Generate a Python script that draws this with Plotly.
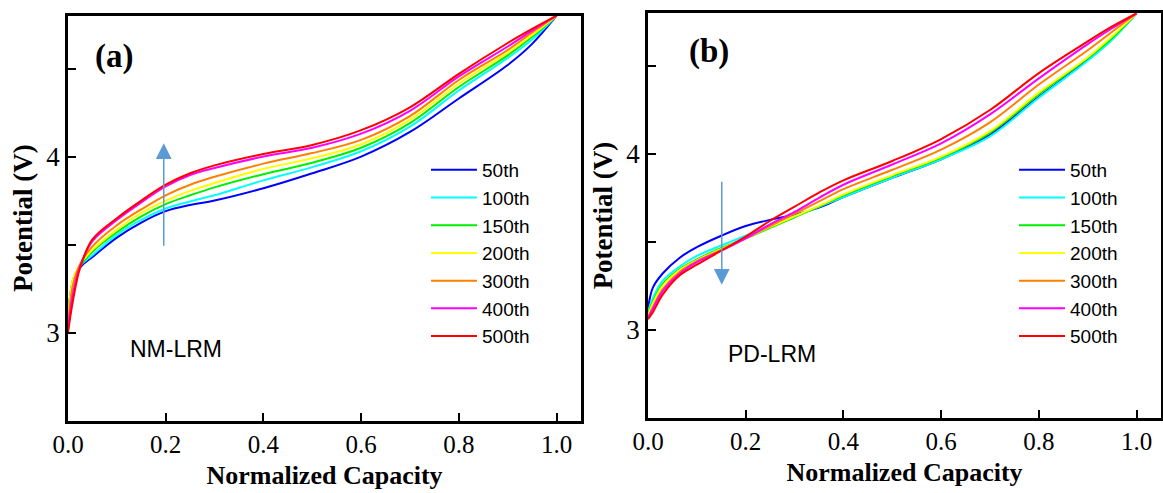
import plotly.graph_objects as go

# ---------------- data ----------------
cycles = ["50th", "100th", "150th", "200th", "300th", "400th", "500th"]
colors = ["#0000ff", "#00ffff", "#00ee00", "#ffff00", "#ff8000", "#ff00ff", "#ff0000"]

# Panel (a) NM-LRM
cap_a = [0, 0.01, 0.025, 0.05, 0.1, 0.15, 0.2, 0.25, 0.3, 0.4, 0.5, 0.6, 0.7, 0.8, 0.9, 0.95, 1.0]
nm_50 = [3.10, 3.28, 3.37, 3.43, 3.54, 3.625, 3.69, 3.725, 3.75, 3.82, 3.905, 4.00, 4.14, 4.33, 4.52, 4.64, 4.80]
nm_100 = [3.08, 3.29, 3.38, 3.44, 3.555, 3.64, 3.705, 3.745, 3.78, 3.865, 3.94, 4.03, 4.17, 4.375, 4.56, 4.665, 4.80]
nm_150 = [3.06, 3.30, 3.38, 3.46, 3.57, 3.66, 3.73, 3.78, 3.825, 3.90, 3.965, 4.05, 4.19, 4.395, 4.575, 4.68, 4.80]
nm_200 = [3.05, 3.30, 3.39, 3.47, 3.585, 3.68, 3.75, 3.805, 3.85, 3.93, 3.99, 4.07, 4.21, 4.415, 4.59, 4.69, 4.80]
nm_300 = [3.04, 3.27, 3.39, 3.49, 3.61, 3.70, 3.78, 3.84, 3.885, 3.96, 4.02, 4.095, 4.23, 4.435, 4.605, 4.705, 4.80]
nm_400 = [3.02, 3.22, 3.38, 3.52, 3.64, 3.74, 3.83, 3.895, 3.935, 4.00, 4.05, 4.13, 4.26, 4.455, 4.625, 4.715, 4.80]
nm_500 = [3.00, 3.18, 3.37, 3.53, 3.65, 3.75, 3.84, 3.905, 3.95, 4.015, 4.066, 4.15, 4.28, 4.47, 4.645, 4.725, 4.80]

# Panel (b) PD-LRM
cap_b = [0, 0.01, 0.03, 0.065, 0.1, 0.15, 0.2, 0.25, 0.3, 0.35, 0.4, 0.5, 0.6, 0.7, 0.8, 0.9, 0.95, 1.0]
pd_50 = [3.12, 3.24, 3.32, 3.41, 3.47, 3.535, 3.59, 3.625, 3.655, 3.695, 3.755, 3.865, 3.97, 4.11, 4.325, 4.535, 4.655, 4.80]
pd_100 = [3.10, 3.18, 3.28, 3.36, 3.42, 3.48, 3.535, 3.59, 3.645, 3.70, 3.755, 3.865, 3.97, 4.10, 4.32, 4.53, 4.65, 4.80]
pd_150 = [3.09, 3.16, 3.26, 3.345, 3.40, 3.465, 3.52, 3.58, 3.64, 3.70, 3.765, 3.875, 3.98, 4.12, 4.34, 4.545, 4.66, 4.80]
pd_200 = [3.08, 3.15, 3.25, 3.34, 3.395, 3.46, 3.52, 3.585, 3.645, 3.705, 3.77, 3.88, 3.985, 4.13, 4.35, 4.55, 4.67, 4.80]
pd_300 = [3.07, 3.13, 3.23, 3.33, 3.39, 3.455, 3.52, 3.59, 3.66, 3.73, 3.80, 3.91, 4.025, 4.18, 4.395, 4.59, 4.695, 4.80]
pd_400 = [3.07, 3.12, 3.22, 3.32, 3.385, 3.45, 3.52, 3.60, 3.67, 3.75, 3.825, 3.94, 4.06, 4.225, 4.43, 4.625, 4.715, 4.80]
pd_500 = [3.06, 3.10, 3.20, 3.31, 3.37, 3.45, 3.53, 3.62, 3.70, 3.78, 3.85, 3.96, 4.085, 4.25, 4.46, 4.64, 4.725, 4.80]

x_ticks = [0.0, 0.2, 0.4, 0.6, 0.8, 1.0]
y_ticks = [3, 3.5, 4, 4.5]
y_ticktext = ["3", "", "4", ""]

nm_series = [nm_50, nm_100, nm_150, nm_200, nm_300, nm_400, nm_500]
pd_series = [pd_50, pd_100, pd_150, pd_200, pd_300, pd_400, pd_500]

# ---------------- figure ----------------
W, H = 1163, 493
fig = go.Figure()

for name, col, ys in zip(cycles, colors, nm_series):
    fig.add_trace(go.Scatter(x=cap_a, y=ys, mode="lines", name=name,
                             line=dict(color=col, width=2, shape="spline", smoothing=1.0),
                             xaxis="x", yaxis="y", legend="legend"))
for name, col, ys in zip(cycles, colors, pd_series):
    fig.add_trace(go.Scatter(x=cap_b, y=ys, mode="lines", name=name,
                             line=dict(color=col, width=2, shape="spline", smoothing=1.0),
                             xaxis="x2", yaxis="y2", legend="legend2"))

serif = "Liberation Serif, Times New Roman, serif"
sans = "Liberation Sans, Arial, sans-serif"

def xaxis(domain, anchor):
    return dict(domain=domain, anchor=anchor, range=[0, 1.05], tickvals=x_ticks,
                tickformat=".1f", ticks="inside", ticklen=8, tickwidth=2, tickcolor="black",
                showline=True, linecolor="black", linewidth=2.5, mirror=True,
                showgrid=False, zeroline=False,
                tickfont=dict(family=serif, size=25, color="black"),
                title=dict(text="<b>Normalized Capacity</b>", standoff=9,
                           font=dict(family=serif, size=26, color="black")),
                automargin=False)

def yaxis(domain, anchor):
    return dict(domain=domain, anchor=anchor, range=[2.5, 4.8], tickvals=y_ticks,
                ticktext=y_ticktext, ticks="inside", ticklen=8, tickwidth=2, tickcolor="black",
                showline=True, linecolor="black", linewidth=2.5, mirror=True,
                showgrid=False, zeroline=False,
                tickfont=dict(family=serif, size=27, color="black"),
                title=dict(text="<b>Potential (V)</b>", standoff=6,
                           font=dict(family=serif, size=27, color="black")),
                automargin=False)

xa = [68 / W, 581 / W]
xb = [648 / W, 1161 / W]
ya = [(H - 420.7) / H, (H - 15.7) / H]
yb = [(H - 417.7) / H, (H - 13.3) / H]

legend_common = dict(bgcolor="rgba(0,0,0,0)", borderwidth=0, itemwidth=46,
                     font=dict(family=sans, size=19, color="black"),
                     xanchor="left", yanchor="top", tracegroupgap=0)

arrow_col = "#5b9bd5"

fig.update_layout(
    width=W, height=H, autosize=False,
    margin=dict(l=0, r=0, t=0, b=0),
    paper_bgcolor="white", plot_bgcolor="white",
    xaxis=xaxis(xa, "y"), yaxis=yaxis(ya, "x"),
    xaxis2=xaxis(xb, "y2"), yaxis2=yaxis(yb, "x2"),
    legend=dict(x=426 / W, y=(H - 151) / H, **legend_common),
    legend2=dict(x=1014 / W, y=(H - 151) / H, **legend_common),
    annotations=[
        dict(x=0.094, y=4.57, xref="x", yref="y", text="<b>(a)</b>", showarrow=False,
             font=dict(family=serif, size=33, color="black")),
        dict(x=0.125, y=4.58, xref="x2", yref="y2", text="<b>(b)</b>", showarrow=False,
             font=dict(family=serif, size=33, color="black")),
        dict(x=0.221, y=2.91, xref="x", yref="y", text="NM-LRM", showarrow=False,
             font=dict(family=sans, size=23, color="black")),
        dict(x=0.254, y=2.86, xref="x2", yref="y2", text="PD-LRM", showarrow=False,
             font=dict(family=sans, size=23, color="black")),
        dict(x=0.196, y=4.075, ax=0.196, ay=3.485, xref="x", yref="y", axref="x", ayref="y",
             text="", showarrow=True, arrowhead=2, arrowsize=2.1, arrowwidth=1.5,
             arrowcolor=arrow_col),
        dict(x=0.151, y=3.256, ax=0.151, ay=3.85, xref="x2", yref="y2", axref="x2", ayref="y2",
             text="", showarrow=True, arrowhead=2, arrowsize=2.1, arrowwidth=1.5,
             arrowcolor=arrow_col),
    ],
)

fig.write_html("out.html")
